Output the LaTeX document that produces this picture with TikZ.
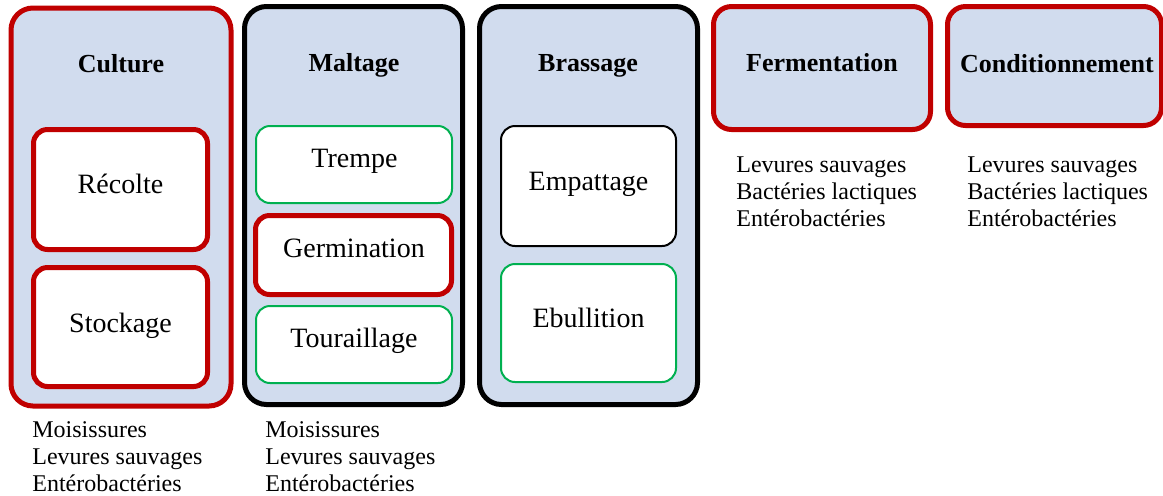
\documentclass[tikz,border=0pt]{standalone}
\usepackage{fontspec}
\setmainfont{Liberation Serif}
\usetikzlibrary{fit}
\definecolor{bgblue}{RGB}{209,220,238}
\definecolor{dred}{RGB}{192,0,0}
\definecolor{dgreen}{RGB}{0,176,80}
\begin{document}
\begin{tikzpicture}[x=0.5pt,y=-0.5pt,
  stage/.style={draw, fill=bgblue, line width=2.5pt, rounded corners=11pt, inner sep=0pt, outer sep=0pt},
  redstage/.style={stage, draw=dred},
  blackstage/.style={stage, draw=black},
  substep/.style={fill=white, rounded corners=7pt, inner sep=0pt, outer sep=0pt},
  redstep/.style={substep, draw=dred, line width=2.5pt},
  greenstep/.style={substep, draw=dgreen, line width=1pt},
  blackstep/.style={substep, draw=black, line width=1pt},
  title/.style={font=\fontsize{13}{15.6}\selectfont\bfseries, anchor=base, inner sep=0pt},
  steplbl/.style={font=\fontsize{14}{16.8}\selectfont, anchor=base, inner sep=0pt},
  listlbl/.style={font=\fontsize{12}{13.5}\selectfont, anchor=base west, inner sep=0pt}
]
\useasboundingbox (0,0) rectangle (1163,495);
\fill[white] (0,0) rectangle (1163,495);

% Culture
\node[redstage, fit={(11,8) (231,406)}] (culture) {};
\node[redstep, fit={(33.5,129.5) (207.5,249.5)}] (recolte) {};
\node[redstep, fit={(33.5,267.5) (207.5,386.5)}] (stockage) {};
\node[title] (culture-t) at (121,72) {Culture};
\node[steplbl] (recolte-t) at (120.5,193) {Récolte};
\node[steplbl] (stockage-t) at (120.5,332) {Stockage};

% Maltage
\node[blackstage, fit={(244.5,6.5) (462.5,404.5)}] (maltage) {};
\node[greenstep, fit={(256,126) (452,203)}] (trempe) {};
\node[redstep, fit={(255.5,215.5) (451.5,294.5)}] (germination) {};
\node[greenstep, fit={(256,306) (452,383)}] (touraillage) {};
\node[title] (maltage-t) at (354,71) {Maltage};
\node[steplbl] (trempe-t) at (354.5,167) {Trempe};
\node[steplbl] (germination-t) at (354,257) {Germination};
\node[steplbl] (touraillage-t) at (354,347) {Touraillage};

% Brassage
\node[blackstage, fit={(479.5,6.5) (697.5,404.5)}] (brassage) {};
\node[blackstep, fit={(501,126) (676,246)}] (empattage) {};
\node[greenstep, fit={(501,264) (676,382)}] (ebullition) {};
\node[title] (brassage-t) at (588,71) {Brassage};
\node[steplbl] (empattage-t) at (588.5,190) {Empattage};
\node[steplbl] (ebullition-t) at (588.5,327) {Ebullition};

% Fermentation
\node[redstage, rounded corners=9pt, fit={(713.5,6.5) (930.5,129.5)}] (fermentation) {};
\node[title] (fermentation-t) at (822,71) {Fermentation};

% Conditionnement
\node[redstage, rounded corners=9pt, fit={(947.5,6.5) (1161.5,125.5)}] (conditionnement) {};
\node[title] (conditionnement-t) at (1057,72) {Conditionnement};

% Lists
\node[listlbl] (l1a) at (32,437) {Moisissures};
\node[listlbl] (l1b) at (32,464) {Levures sauvages};
\node[listlbl] (l1c) at (32,491) {Entérobactéries};

\node[listlbl] (l2a) at (265,437) {Moisissures};
\node[listlbl] (l2b) at (265,464) {Levures sauvages};
\node[listlbl] (l2c) at (265,491) {Entérobactéries};

\node[listlbl] (l4a) at (736,172.5) {Levures sauvages};
\node[listlbl] (l4b) at (736,199.5) {Bactéries lactiques};
\node[listlbl] (l4c) at (736,226.5) {Entérobactéries};

\node[listlbl] (l5a) at (967,172.5) {Levures sauvages};
\node[listlbl] (l5b) at (967,199.5) {Bactéries lactiques};
\node[listlbl] (l5c) at (967,226.5) {Entérobactéries};
\end{tikzpicture}
\end{document}
